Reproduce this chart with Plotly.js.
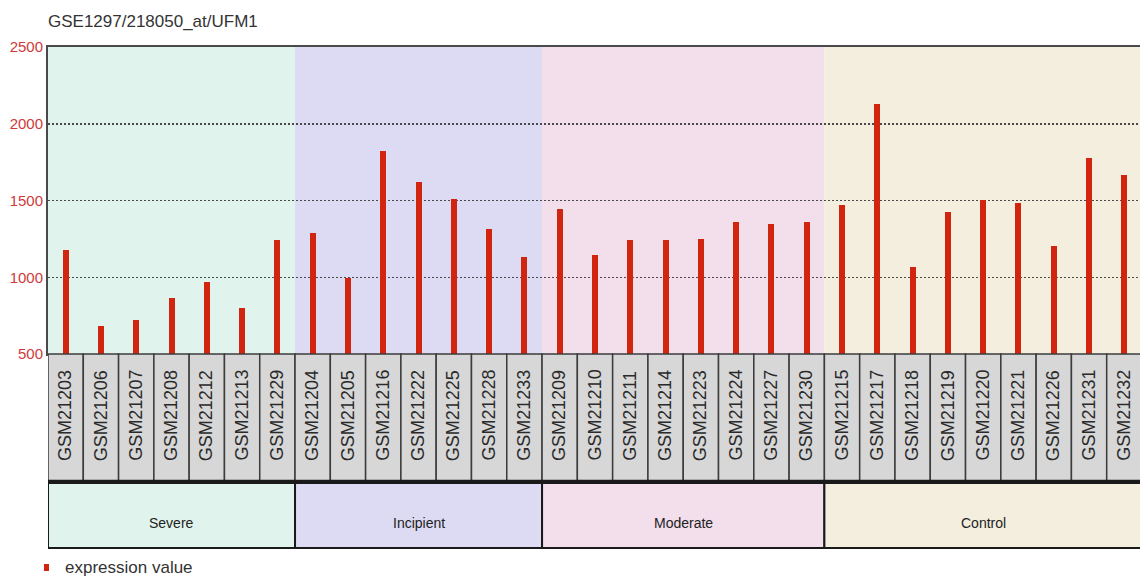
<!DOCTYPE html>
<html>
<head>
<meta charset="utf-8">
<script src="https://cdn.plot.ly/plotly-3.0.1.min.js"></script>
<style>
  html, body { margin: 0; padding: 0; overflow: hidden; background: #fff; }
  #chart { width: 1144px; height: 583px; }
</style>
</head>
<body>
<div id="chart"></div>
<script>
// GSE1297 / probe 218050_at (UFM1): expression value per sample
const samples = [
  'GSM21203', 'GSM21206', 'GSM21207', 'GSM21208', 'GSM21212', 'GSM21213', 'GSM21229',
  'GSM21204', 'GSM21205', 'GSM21216', 'GSM21222', 'GSM21225', 'GSM21228', 'GSM21233',
  'GSM21209', 'GSM21210', 'GSM21211', 'GSM21214', 'GSM21223', 'GSM21224', 'GSM21227', 'GSM21230',
  'GSM21215', 'GSM21217', 'GSM21218', 'GSM21219', 'GSM21220', 'GSM21221', 'GSM21226', 'GSM21231', 'GSM21232'
];
const values = [
  1180, 680, 722, 865, 972, 802, 1240,
  1288, 995, 1825, 1618, 1510, 1313, 1132,
  1445, 1142, 1240, 1240, 1252, 1360, 1348, 1360,
  1470, 2128, 1070, 1422, 1505, 1484, 1202, 1775, 1665
];
const sampleGroup = [
  'Severe', 'Severe', 'Severe', 'Severe', 'Severe', 'Severe', 'Severe',
  'Incipient', 'Incipient', 'Incipient', 'Incipient', 'Incipient', 'Incipient', 'Incipient',
  'Moderate', 'Moderate', 'Moderate', 'Moderate', 'Moderate', 'Moderate', 'Moderate', 'Moderate',
  'Control', 'Control', 'Control', 'Control', 'Control', 'Control', 'Control', 'Control', 'Control'
];
const groupNames = ['Severe', 'Incipient', 'Moderate', 'Control'];
const yTicks = [500, 1000, 1500, 2000, 2500];
const chartTitle = 'GSE1297/218050_at/UFM1';
const seriesName = 'expression value';

// styling
const groupFill = {
  Severe: '#e0f3ec',
  Incipient: '#dddbf3',
  Moderate: '#f3deeb',
  Control: '#f4eedf'
};
const barColor = '#d2250f';
const narrow = '"Liberation Sans Narrow", "Arial Narrow", "Liberation Sans", Arial, sans-serif';
const regular = '"Liberation Sans", Arial, sans-serif';

// vertical layout of the label strip and the group band (paper units below the plot)
const cellTop = 0, cellBottom = -0.4137;
const bandTop = -0.4202, bandBottom = -0.6319;

const shapes = [];
const annotations = [];

// group background spans inside the plot and group band below the labels
groupNames.forEach(g => {
  const idx = sampleGroup.map((s, i) => s === g ? i : -1).filter(i => i >= 0);
  const x0 = Math.min(...idx) - 0.5, x1 = Math.max(...idx) + 0.5;
  shapes.push({
    type: 'rect', layer: 'below', xref: 'x', yref: 'paper',
    x0: x0, x1: x1, y0: 0, y1: 1,
    fillcolor: groupFill[g], line: { width: 0 }
  });
  shapes.push({
    type: 'rect', xref: 'x', yref: 'paper',
    x0: x0, x1: x1, y0: bandBottom, y1: bandTop,
    fillcolor: groupFill[g], line: { color: '#1a1a1a', width: 2 }
  });
  annotations.push({
    xref: 'x', yref: 'paper', x: (x0 + x1) / 2, y: -0.5505,
    text: g, showarrow: false, xanchor: 'center', yanchor: 'middle',
    font: { family: narrow, size: 14, color: '#222' }
  });
});

// one grey cell with a rotated sample name per bar
samples.forEach((s, i) => {
  shapes.push({
    type: 'rect', xref: 'x', yref: 'paper',
    x0: i - 0.5, x1: i + 0.5, y0: cellBottom, y1: cellTop,
    fillcolor: '#d7d7d7', line: { color: '#3c3c3c', width: 1.5 }
  });
  annotations.push({
    xref: 'x', yref: 'paper', x: i, y: -0.200,
    text: s, textangle: -90, showarrow: false,
    xanchor: 'center', yanchor: 'middle',
    font: { family: regular, size: 18, color: '#2a2a2a' }
  });
});
// heavy rule under the label strip
shapes.push({
  type: 'line', xref: 'paper', yref: 'paper',
  x0: 0, x1: 1, y0: cellBottom, y1: cellBottom,
  line: { color: '#1a1a1a', width: 2.5 }
});

// legend key
shapes.push({
  type: 'rect', xref: 'paper', yref: 'paper',
  x0: -0.0037, x1: 0.0009, y0: -0.684, y1: -0.7068,
  fillcolor: barColor, line: { width: 0 }
});
annotations.push({
  xref: 'paper', yref: 'paper', x: 0.0137, y: -0.697,
  text: seriesName, showarrow: false, xanchor: 'left', yanchor: 'middle',
  font: { family: narrow, size: 17, color: '#333' }
});

const trace = {
  type: 'bar',
  x: samples,
  y: values,
  width: 0.17,
  marker: { color: barColor, line: { width: 0 } },
  name: seriesName,
  hoverinfo: 'x+y'
};

const layout = {
  width: 1144,
  height: 583,
  margin: { l: 48, r: 2, t: 47, b: 229 },
  paper_bgcolor: '#ffffff',
  plot_bgcolor: 'rgba(0,0,0,0)',
  showlegend: false,
  bargap: 0,
  title: {
    text: chartTitle,
    xref: 'container', yref: 'container',
    x: 48 / 1144, xanchor: 'left',
    y: 1 - 21 / 583, yanchor: 'middle',
    font: { family: narrow, size: 17, color: '#333' }
  },
  xaxis: {
    type: 'category',
    range: [-0.5, samples.length - 0.5],
    showticklabels: false,
    ticks: '',
    showgrid: false,
    zeroline: false,
    showline: true, mirror: true,
    linecolor: '#4a4a4a', linewidth: 2,
    fixedrange: true
  },
  yaxis: {
    range: [500, 2500],
    tickvals: yTicks,
    ticktext: yTicks.map(String),
    ticks: '',
    showgrid: true,
    gridcolor: '#4a4a4a', gridwidth: 1.5, griddash: '2px,2px',
    zeroline: false,
    showline: true, mirror: true,
    linecolor: '#4a4a4a', linewidth: 2,
    tickfont: { family: narrow, size: 15, color: '#d0393a' },
    fixedrange: true
  },
  shapes: shapes,
  annotations: annotations
};

Plotly.newPlot('chart', [trace], layout, { displayModeBar: false, staticPlot: true });
</script>
</body>
</html>
